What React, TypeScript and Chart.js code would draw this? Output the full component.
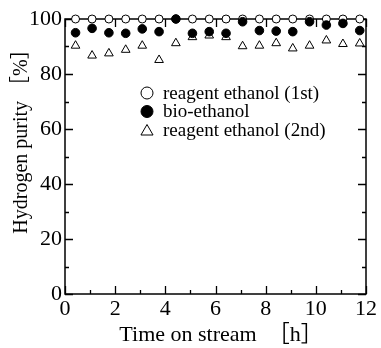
import { useEffect, useRef } from 'react';
import { Chart, registerables } from 'chart.js';

Chart.register(...registerables);

// ---- data ----
const timeHours = [0.42, 1.08, 1.75, 2.42, 3.08, 3.75, 4.42, 5.08, 5.75, 6.42, 7.08, 7.75, 8.42, 9.08, 9.75, 10.42, 11.08, 11.75];
const reagent1st = [100, 100, 100, 100, 100, 100, 100, 100, 100, 100, 100, 100, 100, 100, 100, 100, 100, 100];
const bioEthanol = [95.0, 96.6, 95.0, 94.8, 96.4, 95.4, 100, 94.8, 95.4, 94.8, 99.0, 95.8, 95.6, 95.4, 99.0, 97.8, 98.4, 95.8];
const reagent2nd = [90.3, 86.7, 87.5, 88.8, 90.3, 85.1, 91.2, 93.4, 94.0, 93.4, 90.1, 90.3, 91.2, 89.3, 90.3, 92.2, 90.9, 91.1];
const seriesLabels = ['reagent ethanol (1st)', 'bio-ethanol', 'reagent ethanol (2nd)'];
const xTitle = '  Time on stream\u3000［h］';
const yTitle = '\u3000\u3000Hydrogen purity ［%］';

const SERIF = "'Liberation Serif', 'Times New Roman', 'Noto Sans CJK JP', serif";

const toPoints = (ys: number[]) => ys.map((v, i) => ({ x: timeHours[i], y: v }));

const frameTicks = {
  id: 'frameTicks',
  beforeDatasetsDraw(chart: any) {
    const { ctx, chartArea, scales } = chart;
    const { left, right, top, bottom } = chartArea;
    const x = scales.x;
    const y = scales.y;
    ctx.save();
    ctx.strokeStyle = '#000';
    ctx.lineWidth = 1.5;
    ctx.strokeRect(left, top, right - left, bottom - top);
    ctx.lineWidth = 1.3;
    ctx.beginPath();
    for (let v = x.min; v <= x.max + 1e-9; v += 1) {
      const px = Math.round(x.getPixelForValue(v)) + 0.5;
      const len = v % 2 === 0 ? 8 : 4;
      ctx.moveTo(px, bottom);
      ctx.lineTo(px, bottom - len);
      ctx.moveTo(px, top);
      ctx.lineTo(px, top + len);
    }
    for (let v = y.min; v <= y.max + 1e-9; v += 10) {
      const py = Math.round(y.getPixelForValue(v)) + 0.5;
      const len = v % 20 === 0 ? 8 : 4;
      ctx.moveTo(left, py);
      ctx.lineTo(left + len, py);
      ctx.moveTo(right, py);
      ctx.lineTo(right - len, py);
    }
    ctx.stroke();
    ctx.restore();
  },
};

const innerLegend = {
  id: 'innerLegend',
  afterDatasetsDraw(chart: any) {
    const { ctx, chartArea } = chart;
    const x0 = chartArea.left + 82;
    const y0 = chartArea.top + 74;
    const gap = 18.5;
    ctx.save();
    chart.data.datasets.forEach((ds: any, i: number) => {
      const cy = y0 + i * gap;
      ctx.beginPath();
      ctx.lineWidth = 1;
      ctx.strokeStyle = '#000';
      ctx.fillStyle = ds.backgroundColor;
      if (ds.pointStyle === 'triangle') {
        const r = 7;
        for (let k = 0; k < 3; k++) {
          const a = (k * 2 * Math.PI) / 3;
          const px = x0 + Math.sin(a) * r;
          const py = cy + 1.5 - Math.cos(a) * r;
          if (k === 0) ctx.moveTo(px, py);
          else ctx.lineTo(px, py);
        }
        ctx.closePath();
      } else {
        ctx.arc(x0, cy, 6, 0, Math.PI * 2);
      }
      ctx.fill();
      ctx.stroke();
      ctx.fillStyle = '#000';
      ctx.font = `19px ${SERIF}`;
      ctx.textBaseline = 'middle';
      ctx.textAlign = 'left';
      ctx.fillText(ds.label, x0 + 16, cy + 1);
    });
    ctx.restore();
  },
};

export default function App() {
  const ref = useRef<HTMLCanvasElement | null>(null);
  useEffect(() => {
    const canvas = ref.current;
    if (!canvas) return;
    const chart = new Chart(canvas, {
      type: 'scatter',
      data: {
        datasets: [
          {
            label: seriesLabels[0],
            data: toPoints(reagent1st),
            pointStyle: 'circle',
            pointRadius: 4,
            backgroundColor: '#ffffff',
            borderColor: '#000000',
            borderWidth: 1,
            order: 3,
            clip: false,
          },
          {
            label: seriesLabels[1],
            data: toPoints(bioEthanol),
            pointStyle: 'circle',
            pointRadius: 4.3,
            backgroundColor: '#000000',
            borderColor: '#000000',
            borderWidth: 1,
            order: 1,
            clip: false,
          },
          {
            label: seriesLabels[2],
            data: toPoints(reagent2nd),
            pointStyle: 'triangle',
            pointRadius: 5,
            backgroundColor: '#ffffff',
            borderColor: '#000000',
            borderWidth: 1,
            order: 2,
            clip: false,
          },
        ] as any,
      },
      options: {
        animation: false,
        responsive: false,
        devicePixelRatio: 1,
        layout: { padding: { left: 0, top: 19, right: 15, bottom: 0 } },
        plugins: { legend: { display: false }, tooltip: { enabled: false } },
        scales: {
          x: {
            type: 'linear',
            min: 0,
            max: 12,
            grid: { display: false, drawTicks: false },
            border: { display: false },
            ticks: {
              stepSize: 2,
              autoSkip: false,
              maxRotation: 0,
              padding: 2,
              color: '#000',
              font: { family: SERIF, size: 22 },
            },
            title: {
              display: true,
              text: xTitle,
              color: '#000',
              font: { family: SERIF, size: 22 },
              padding: { top: 0, bottom: 0 },
            },
            afterFit: (s: any) => {
              s.height = 54;
            },
          },
          y: {
            type: 'linear',
            min: 0,
            max: 100,
            grid: { display: false, drawTicks: false },
            border: { display: false },
            ticks: {
              stepSize: 20,
              padding: 3,
              color: '#000',
              font: { family: SERIF, size: 22 },
            },
            title: {
              display: true,
              text: yTitle,
              color: '#000',
              font: { family: SERIF, size: 20 },
              padding: { top: 10, bottom: 0 },
            },
            afterFit: (s: any) => {
              s.width = 65;
            },
          },
        },
      } as any,
      plugins: [frameTicks, innerLegend],
    });
    return () => chart.destroy();
  }, []);
  return (
    <div style={{ position: 'fixed', left: 0, top: 0, width: 381, height: 348, background: '#fff' }}>
      <canvas ref={ref} width={381} height={348} style={{ display: 'block' }} />
    </div>
  );
}
